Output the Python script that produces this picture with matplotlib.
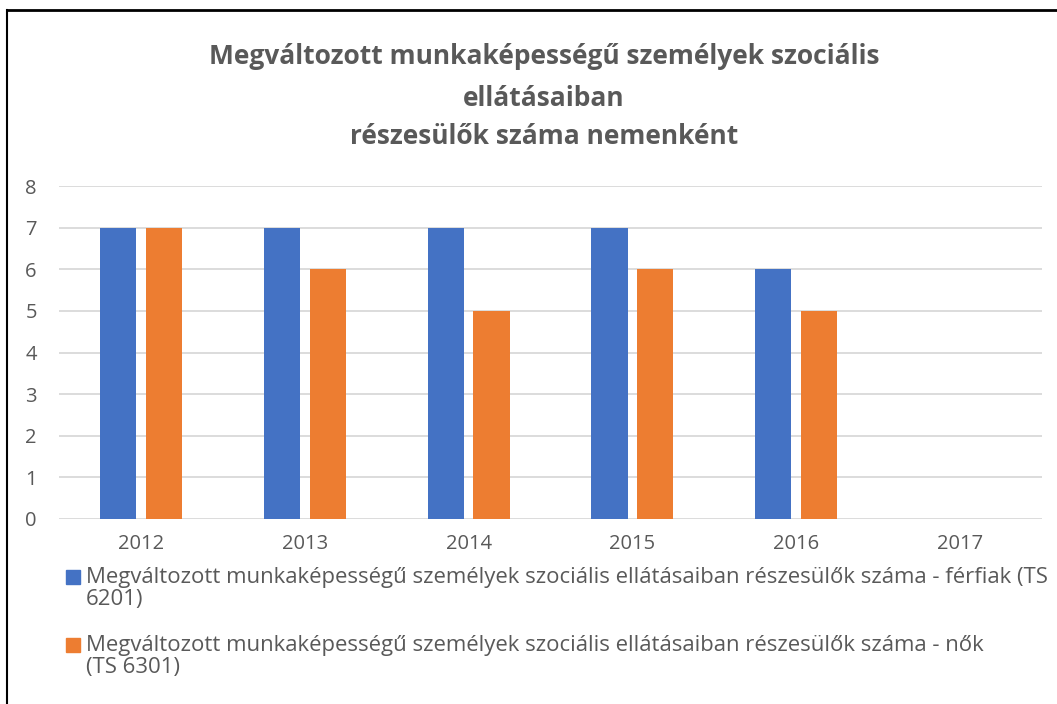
import numpy as np
import matplotlib.pyplot as plt
from matplotlib.lines import Line2D
from matplotlib.patches import Rectangle

years = ['2012', '2013', '2014', '2015', '2016', '2017']
ferfiak = [7, 7, 7, 7, 6, 0]
nok = [7, 6, 5, 6, 5, 0]
title_lines = ['Megváltozott munkaképességű személyek szociális',
               'ellátásaiban',
               'részesülők száma nemenként']
label_f = ['Megváltozott munkaképességű személyek szociális ellátásaiban részesülők száma - férfiak (TS',
           '6201)']
label_n = ['Megváltozott munkaképességű személyek szociális ellátásaiban részesülők száma - nők',
           '(TS 6301)']

blue = '#4472C4'
orange = '#ED7D31'
grey = '#595959'

plt.rcParams['font.family'] = ['Open Sans', 'DejaVu Sans']

W, H = 1057, 704
fig = plt.figure(figsize=(W/100, H/100), dpi=100)
ax = fig.add_axes([59/W, 1-519/H, (1042-59)/W, (519-186)/H])

x = np.arange(len(years))
w = 0.22
ax.bar(x - 0.14, ferfiak, w, color=blue, zorder=3)
ax.bar(x + 0.14, nok, w, color=orange, zorder=3)
ax.set_xlim(-0.5, len(years) - 0.5)
ax.set_ylim(0, 8)
ax.set_yticks(range(9))
ax.set_xticks(x)
ax.set_xticklabels(years)
ax.yaxis.grid(True, color='#D9D9D9', linewidth=1.3, zorder=0)
for s in ax.spines.values():
    s.set_visible(False)
ax.tick_params(length=0, labelsize=14.5, colors=grey)
ax.tick_params(axis='x', pad=11)
ax.tick_params(axis='y', pad=16)

# title, one line at a time
for yy, line in zip([56, 98, 137], title_lines):
    fig.text(544/W, 1-yy/H, line, ha='center', va='center', fontsize=19,
             fontweight='bold', color=grey)

# legend
for yy, col, lab in [(577, blue, label_f), (645, orange, label_n)]:
    fig.patches.append(Rectangle((66/W, 1-(yy+7)/H), 14/W, 14/H, color=col,
                                 transform=fig.transFigure))
    for k, line in enumerate(lab):
        fig.text(86/W, 1-(yy + 23*k)/H, line, ha='left', va='center', fontsize=15.9,
                 color=grey)

# chart frame
fig.add_artist(Line2D([7/W, 7/W], [0, 1-10/H], color='black', linewidth=1.5))
fig.add_artist(Line2D([7/W, 1], [1-10/H, 1-10/H], color='black', linewidth=2))

fig.savefig('out.png', dpi=100)
